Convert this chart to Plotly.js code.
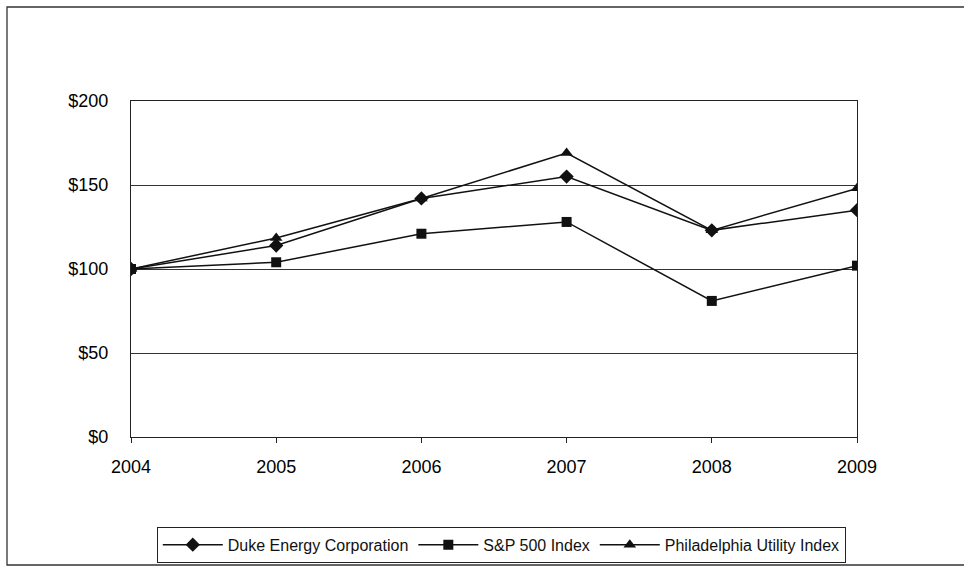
<!DOCTYPE html>
<html>
<head>
<meta charset="utf-8">
<script src="https://cdn.plot.ly/plotly-3.0.1.min.js"></script>
<style>html,body{margin:0;padding:0;background:#fff;}#chart{width:964px;height:572px;}</style>
</head>
<body>
<div id="chart"></div>
<script>
const years = [2004, 2005, 2006, 2007, 2008, 2009];
const dukeEnergy = [100, 114, 142, 155, 123, 135];
const sp500 = [100, 104, 121, 128, 81, 102];
const philaUtility = [100, 118.5, 142, 169, 123, 148];
const yTickVals = [0, 50, 100, 150, 200];
const yTickText = ['$0', '$50', '$100', '$150', '$200'];

const lineStyle = {color: '#111', width: 1.5};
const traces = [
  {x: years, y: dukeEnergy, name: 'Duke Energy Corporation', mode: 'lines+markers',
   line: lineStyle, marker: {symbol: 'diamond', size: 11, color: '#111'}},
  {x: years, y: sp500, name: 'S&P 500 Index', mode: 'lines+markers',
   line: lineStyle, marker: {symbol: 'square', size: 10, color: '#111'}},
  {x: years, y: philaUtility, name: 'Philadelphia Utility Index', mode: 'lines+markers',
   line: lineStyle, marker: {symbol: 'triangle-up', size: 11, color: '#111'}}
];

const fontFam = 'Liberation Sans, Arial, sans-serif';
const layout = {
  width: 964, height: 572,
  margin: {l: 131, r: 107, t: 101, b: 135},
  paper_bgcolor: '#fff', plot_bgcolor: '#fff',
  font: {family: fontFam, color: '#111', size: 18},
  showlegend: true,
  xaxis: {
    range: [2004, 2009], tickvals: years, ticktext: years.map(String),
    showgrid: false, zeroline: false, showline: true, linecolor: '#222', linewidth: 1.2,
    mirror: true, ticks: 'outside', ticklen: 5, tickcolor: '#222',
    ticklabelstandoff: 8,
    tickfont: {family: fontFam, size: 18, color: '#000'}
  },
  yaxis: {
    range: [0, 200], tickvals: yTickVals, ticktext: yTickText,
    showgrid: true, gridcolor: '#333', gridwidth: 1,
    zeroline: false, showline: true, linecolor: '#222', linewidth: 1.2, mirror: true,
    ticks: '', ticklabelstandoff: 18,
    tickfont: {family: fontFam, size: 18, color: '#000'}
  },
  legend: {
    orientation: 'h', xref: 'container', yref: 'container',
    x: 0.52, xanchor: 'center', y: 0.079, yanchor: 'top',
    bordercolor: '#222', borderwidth: 1, bgcolor: '#fff',
    font: {family: fontFam, size: 16, color: '#111'},
    itemwidth: 60, tracegroupgap: 0
  },
  shapes: [
    {type: 'rect', xref: 'paper', yref: 'paper',
     x0: -0.1708, x1: 1.152, y0: -0.381, y1: 1.2798,
     line: {color: '#333', width: 1.3}, fillcolor: 'rgba(0,0,0,0)', layer: 'below'}
  ]
};

Plotly.newPlot('chart', traces, layout, {displayModeBar: false, staticPlot: true});
</script>
</body>
</html>
